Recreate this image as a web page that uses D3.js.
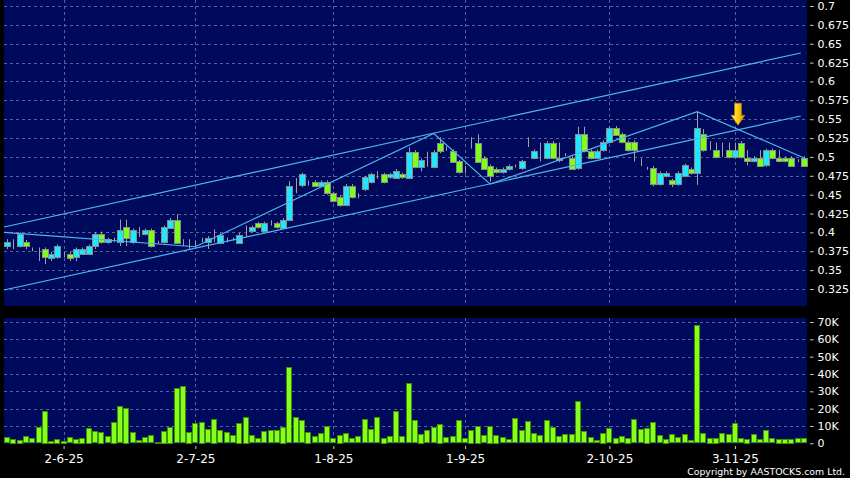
<!DOCTYPE html>
<html>
<head>
<meta charset="utf-8">
<script src="https://cdn.jsdelivr.net/npm/d3@7"></script>
<style>
  html, body { margin: 0; padding: 0; background: #000; }
  svg { display: block; }
  text { font-family: "DejaVu Sans", sans-serif; fill: #fff; }
</style>
</head>
<body>
<svg id="chart" width="850" height="478"></svg>
<script>
// daily candles, index 0 = first trading day shown
var opens = [
  0.382, 0.387, 0.382, 0.387, 0.378, 0.378, 0.378, 0.367, 0.367, 0.372,
  0.372, 0.367, 0.372, 0.372, 0.382, 0.398, 0.387, 0.391, 0.387, 0.407,
  0.387, 0.403, 0.398, 0.403, 0.387, 0.387, 0.407, 0.417, 0.387, 0.387,
  0.387, 0.391, 0.387, 0.391, 0.387, 0.391, 0.391, 0.387, 0.397, 0.402,
  0.412, 0.402, 0.412, 0.412, 0.407, 0.417, 0.467, 0.462, 0.467, 0.467,
  0.462, 0.467, 0.452, 0.447, 0.437, 0.462, 0.447, 0.457, 0.467, 0.477,
  0.477, 0.473, 0.473, 0.477, 0.473, 0.507, 0.487, 0.497, 0.487, 0.518,
  0.512, 0.508, 0.494, 0.484, 0.519, 0.519, 0.499, 0.488, 0.484, 0.480,
  0.484, 0.488, 0.485, 0.519, 0.499, 0.508, 0.499, 0.519, 0.498, 0.503,
  0.499, 0.485, 0.530, 0.508, 0.499, 0.509, 0.520, 0.539, 0.530, 0.520,
  0.520, 0.494, 0.485, 0.485, 0.464, 0.475, 0.469, 0.464, 0.475, 0.484,
  0.479, 0.530, 0.519, 0.509, 0.509, 0.509, 0.500, 0.519, 0.499, 0.495,
  0.499, 0.489, 0.509, 0.499, 0.499, 0.499, 0.495, 0.499
];
var highs = [
  0.391, 0.391, 0.400, 0.390, 0.380, 0.380, 0.380, 0.374, 0.384, 0.374,
  0.374, 0.380, 0.380, 0.384, 0.400, 0.401, 0.393, 0.393, 0.417, 0.417,
  0.405, 0.407, 0.405, 0.405, 0.389, 0.409, 0.419, 0.424, 0.391, 0.391,
  0.389, 0.393, 0.395, 0.404, 0.399, 0.393, 0.393, 0.399, 0.409, 0.409,
  0.414, 0.414, 0.416, 0.414, 0.419, 0.468, 0.472, 0.479, 0.469, 0.469,
  0.469, 0.469, 0.454, 0.449, 0.464, 0.464, 0.452, 0.475, 0.479, 0.481,
  0.479, 0.479, 0.484, 0.479, 0.513, 0.509, 0.498, 0.507, 0.509, 0.526,
  0.514, 0.510, 0.496, 0.488, 0.526, 0.530, 0.501, 0.490, 0.486, 0.486,
  0.490, 0.490, 0.496, 0.526, 0.510, 0.519, 0.521, 0.521, 0.519, 0.505,
  0.501, 0.540, 0.540, 0.510, 0.510, 0.522, 0.541, 0.541, 0.532, 0.522,
  0.522, 0.498, 0.487, 0.488, 0.481, 0.481, 0.471, 0.481, 0.491, 0.486,
  0.560, 0.537, 0.521, 0.519, 0.519, 0.519, 0.519, 0.521, 0.509, 0.501,
  0.509, 0.511, 0.511, 0.509, 0.501, 0.501, 0.497, 0.501
];
var lows = [
  0.378, 0.378, 0.380, 0.378, 0.375, 0.362, 0.358, 0.362, 0.365, 0.367,
  0.362, 0.362, 0.370, 0.370, 0.378, 0.385, 0.385, 0.387, 0.382, 0.382,
  0.385, 0.394, 0.396, 0.380, 0.385, 0.385, 0.405, 0.385, 0.382, 0.378,
  0.382, 0.387, 0.378, 0.387, 0.385, 0.387, 0.389, 0.385, 0.394, 0.400,
  0.405, 0.400, 0.409, 0.405, 0.405, 0.415, 0.452, 0.460, 0.462, 0.460,
  0.460, 0.450, 0.440, 0.434, 0.435, 0.445, 0.445, 0.455, 0.465, 0.471,
  0.465, 0.471, 0.471, 0.471, 0.471, 0.485, 0.481, 0.487, 0.485, 0.505,
  0.508, 0.492, 0.478, 0.478, 0.511, 0.492, 0.483, 0.467, 0.478, 0.478,
  0.482, 0.486, 0.483, 0.513, 0.497, 0.494, 0.497, 0.497, 0.493, 0.501,
  0.483, 0.483, 0.506, 0.497, 0.497, 0.507, 0.518, 0.528, 0.518, 0.507,
  0.494, 0.488, 0.483, 0.461, 0.462, 0.473, 0.460, 0.462, 0.473, 0.477,
  0.463, 0.507, 0.509, 0.498, 0.500, 0.498, 0.498, 0.498, 0.489, 0.493,
  0.487, 0.487, 0.497, 0.493, 0.493, 0.487, 0.493, 0.487
];
var closes = [
  0.387, 0.387, 0.398, 0.382, 0.378, 0.378, 0.367, 0.372, 0.382, 0.372,
  0.367, 0.378, 0.378, 0.382, 0.398, 0.387, 0.391, 0.391, 0.403, 0.392,
  0.403, 0.403, 0.403, 0.382, 0.387, 0.407, 0.417, 0.387, 0.387, 0.387,
  0.387, 0.391, 0.392, 0.391, 0.397, 0.391, 0.391, 0.397, 0.397, 0.407,
  0.407, 0.412, 0.412, 0.407, 0.417, 0.462, 0.467, 0.477, 0.467, 0.462,
  0.467, 0.452, 0.442, 0.437, 0.462, 0.447, 0.447, 0.473, 0.477, 0.477,
  0.467, 0.477, 0.482, 0.473, 0.507, 0.487, 0.496, 0.497, 0.507, 0.507,
  0.512, 0.494, 0.480, 0.484, 0.519, 0.494, 0.485, 0.475, 0.480, 0.484,
  0.488, 0.488, 0.494, 0.519, 0.508, 0.508, 0.519, 0.499, 0.495, 0.503,
  0.485, 0.530, 0.508, 0.499, 0.508, 0.520, 0.539, 0.530, 0.520, 0.509,
  0.509, 0.494, 0.485, 0.464, 0.479, 0.479, 0.464, 0.479, 0.489, 0.479,
  0.539, 0.509, 0.519, 0.500, 0.509, 0.500, 0.509, 0.500, 0.495, 0.499,
  0.489, 0.509, 0.499, 0.495, 0.495, 0.489, 0.495, 0.489
];
// volume in thousands of shares
var volumes = [
  3.5, 2.7, 2.1, 4, 2.9, 9.2, 18.9, 1.5, 2.7, 1.5,
  3.5, 2.7, 3.3, 9, 7.1, 6.7, 4, 12.5, 21.4, 20.6,
  6.4, 1.9, 3.5, 4.6, 1, 7.3, 9.6, 31.8, 33, 6.7,
  11.7, 12.5, 8.3, 14.3, 7.7, 6.4, 4.6, 11.9, 15.4, 4.6,
  2.9, 6.9, 7.5, 7.5, 9.6, 43.9, 15, 13.3, 6.7, 4,
  5.8, 10, 2.9, 5, 6, 3.1, 4.2, 13.9, 8.1, 15,
  3.3, 4.2, 18.5, 4, 34.9, 13.3, 5.6, 7.7, 9.4, 11.4,
  3.7, 4.2, 13.3, 2.9, 7.9, 10.2, 4.6, 10.2, 5, 3.5,
  2.5, 14.6, 7.7, 12.9, 6, 4.6, 13.3, 9.2, 4.2, 5.2,
  5.2, 24.3, 7.1, 3.5, 1.9, 6.2, 8.9, 3.3, 4.2, 3.3,
  14, 8.3, 9, 12.1, 4.6, 2.7, 5.2, 3.6, 5.2, 1.7,
  68, 5.8, 3.3, 3.3, 5.8, 5.2, 11.5, 3.1, 2.7, 5.4,
  2.3, 7.5, 3.1, 2.7, 2.7, 2.7, 3.1, 2.8
];

var dateTickDays = [9, 30, 52, 73, 96, 116];
var dateTickLabels = ["2-6-25", "2-7-25", "1-8-25", "1-9-25", "2-10-25", "3-11-25"];
var priceTicks = [0.325, 0.35, 0.375, 0.4, 0.425, 0.45, 0.475, 0.5, 0.525, 0.55, 0.575, 0.6, 0.625, 0.65, 0.675, 0.7];
var volumeTicks = [0, 10, 20, 30, 40, 50, 60, 70];

// drawn trend lines: [day, price]
var upperChannel = [[-0.5, 0.4072], [126.5, 0.6377]];
var lowerChannel = [[-0.5, 0.3237], [126.5, 0.5542]];
var zigzag = [[-0.5, 0.400], [30, 0.381], [68, 0.531], [77, 0.464], [110, 0.560], [127.5, 0.497]];
var arrowMarks = [[116.5, 0.542]];

var N = closes.length;
var svg = d3.select("#chart");

var x = d3.scaleLinear().domain([-0.5, N - 0.5]).range([4, 807]);
var yP = d3.scaleLinear().domain([0.325, 0.7]).range([289, 6]);
var yV = d3.scaleLinear().domain([0, 70]).range([443.3, 322]);

var gridColor = "#56619c";

// panels
svg.append("rect").attr("x", 4).attr("y", 0).attr("width", 803).attr("height", 306).attr("fill", "#000a5c");
svg.append("rect").attr("x", 4).attr("y", 318).attr("width", 803).attr("height", 126).attr("fill", "#000a5c");

var grid = svg.append("g").attr("stroke", gridColor).attr("stroke-dasharray", "3,3").attr("stroke-width", 1);
grid.selectAll("line.hp").data(priceTicks).enter().append("line")
	.attr("x1", 4).attr("x2", 807)
	.attr("y1", function(d) { return Math.round(yP(d)) + 0.5; })
	.attr("y2", function(d) { return Math.round(yP(d)) + 0.5; });
grid.selectAll("line.hv").data(volumeTicks.slice(1)).enter().append("line")
	.attr("x1", 4).attr("x2", 807)
	.attr("y1", function(d) { return Math.round(yV(d)) + 0.5; })
	.attr("y2", function(d) { return Math.round(yV(d)) + 0.5; });
dateTickDays.forEach(function(d) {
	var xx = Math.round(x(d)) + 0.5;
	grid.append("line").attr("x1", xx).attr("x2", xx).attr("y1", 0).attr("y2", 306);
	grid.append("line").attr("x1", xx).attr("x2", xx).attr("y1", 318).attr("y2", 444);
});

// candles
var candles = svg.append("g").selectAll("g").data(d3.range(N)).enter().append("g");
candles.append("line")
	.attr("x1", function(i) { return Math.round(x(i)) + 0.5; })
	.attr("x2", function(i) { return Math.round(x(i)) + 0.5; })
	.attr("y1", function(i) { return yP(highs[i]); })
	.attr("y2", function(i) { return yP(lows[i]); })
	.attr("stroke", "#a0a0a0").attr("stroke-width", 1);
candles.append("rect")
	.attr("x", function(i) { return Math.round(x(i)) - 2.5; })
	.attr("y", function(i) { return Math.round(yP(Math.max(opens[i], closes[i]))) + 0.5; })
	.attr("width", 6)
	.attr("height", function(i) { return Math.round(Math.abs(yP(opens[i]) - yP(closes[i]))); })
	.attr("fill", function(i) { return closes[i] > opens[i] ? "#1ee8ff" : "#7dff1a"; })
	.attr("stroke", "#8a8a8a").attr("stroke-width", 1);

// volume bars
svg.append("g").selectAll("rect").data(d3.range(N)).enter().append("rect")
	.attr("x", function(i) { return Math.round(x(i)) - 2.5; })
	.attr("y", function(i) { return Math.round(yV(volumes[i])) + 0.5; })
	.attr("width", 5)
	.attr("height", function(i) { return Math.max(0, Math.round(yV(0) - yV(volumes[i])) - 1); })
	.attr("fill", "#86ff1c").attr("stroke", "#3f8f00").attr("stroke-width", 1);

// trend lines
var line = d3.line().x(function(d) { return x(d[0]); }).y(function(d) { return yP(d[1]); });
[upperChannel, lowerChannel, zigzag].forEach(function(pts) {
	svg.append("path").attr("d", line(pts)).attr("fill", "none")
		.attr("stroke", "#4fb6f2").attr("stroke-width", 1.2);
});

// signal arrow
var defs = svg.append("defs");
var grad = defs.append("linearGradient").attr("id", "gold").attr("x1", "0").attr("x2", "1").attr("y1", "0").attr("y2", "0");
grad.append("stop").attr("offset", "0%").attr("stop-color", "#fff27a");
grad.append("stop").attr("offset", "50%").attr("stop-color", "#ffcc10");
grad.append("stop").attr("offset", "100%").attr("stop-color", "#d88a00");
svg.selectAll("path.arrow").data(arrowMarks).enter().append("path")
	.attr("class", "arrow")
	.attr("transform", function(d) { return "translate(" + x(d[0]) + "," + yP(d[1]) + ")"; })
	.attr("d", "M0,0 L-7,-10 L-3.5,-10 L-3.5,-22 L3.5,-22 L3.5,-10 L7,-10 Z")
	.attr("fill", "url(#gold)").attr("stroke", "#b87800").attr("stroke-width", 0.6);

// axes
var pAxis = svg.append("g").attr("transform", "translate(810,0)")
	.call(d3.axisRight(yP).tickValues(priceTicks).tickSize(3.5).tickPadding(4)
		.tickFormat(function(d) { return String(+d.toFixed(3)); }));
var vAxis = svg.append("g").attr("transform", "translate(810,0)")
	.call(d3.axisRight(yV).tickValues(volumeTicks).tickSize(3.5).tickPadding(4)
		.tickFormat(function(d) { return d === 0 ? "0" : d + "K"; }));
var dAxis = svg.append("g").attr("transform", "translate(0,446)")
	.call(d3.axisBottom(x).tickValues(dateTickDays).tickSize(3).tickPadding(5)
		.tickFormat(function(d, i) { return dateTickLabels[i]; }));

[pAxis, vAxis, dAxis].forEach(function(a) {
	a.select(".domain").remove();
	a.selectAll(".tick line").attr("stroke", "#c8c8c8");
	a.selectAll(".tick text").attr("fill", "#fff").style("font-family", "'DejaVu Sans', sans-serif");
});
pAxis.selectAll(".tick text").style("font-size", "11px");
vAxis.selectAll(".tick text").style("font-size", "11px");
dAxis.selectAll(".tick text").style("font-size", "12px");

svg.append("text").attr("x", 845).attr("y", 475).attr("text-anchor", "end")
	.style("font-size", "9.4px").text("Copyright by AASTOCKS.com Ltd.");
</script>
</body>
</html>
